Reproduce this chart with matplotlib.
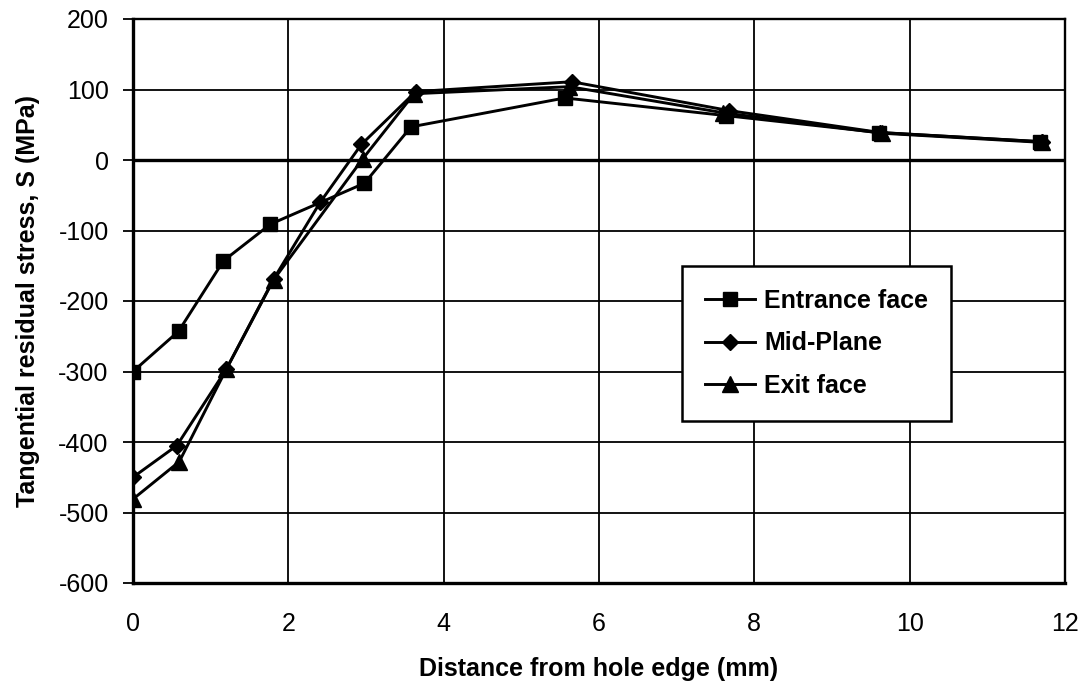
import matplotlib
matplotlib.use("Agg")
import matplotlib.pyplot as plt

plt.rcParams['font.family'] = ['Liberation Sans', 'DejaVu Sans']

# Tangential residual stress vs distance from hole edge
entrance_x = [0, 0.586, 1.165, 1.77, 2.98, 3.58, 5.56, 7.63, 9.60, 11.68]
entrance_s = [-300, -243, -143, -91, -33, 47, 88, 63, 39, 26]

mid_x = [0, 0.565, 1.20, 1.81, 2.41, 2.94, 3.64, 5.65, 7.68, 9.62, 11.70]
mid_s = [-450, -405, -297, -169, -60, 22, 97, 111, 70, 39, 26]

exit_x = [0, 0.595, 1.20, 1.81, 2.96, 3.62, 5.62, 7.60, 9.64, 11.70]
exit_s = [-481, -428, -297, -170, 2, 94, 104, 67, 38, 25]

series_labels = ["Entrance face", "Mid-Plane", "Exit face"]
x_ticks = [0, 2, 4, 6, 8, 10, 12]
y_ticks = [-600, -500, -400, -300, -200, -100, 0, 100, 200]

fig = plt.figure(figsize=(10.88, 6.86), dpi=100)
ax = fig.add_axes([133 / 1088, 1 - 583 / 686, (1065 - 133) / 1088, (583 - 19) / 686])

lw = 2.1
ax.plot(entrance_x, entrance_s, color='black', lw=lw, marker='s', ms=10,
        label=series_labels[0], zorder=4)
ax.plot(mid_x, mid_s, color='black', lw=lw, marker='D', ms=8,
        label=series_labels[1], zorder=4)
ax.plot(exit_x, exit_s, color='black', lw=lw, marker='^', ms=11,
        label=series_labels[2], zorder=4)

ax.set_xlim(0, 12)
ax.set_ylim(-600, 200)
ax.set_xticks(x_ticks)
ax.set_yticks(y_ticks)
ax.set_xticklabels([str(v) for v in x_ticks])
ax.set_yticklabels([str(v) for v in y_ticks])

ax.grid(True, color='black', lw=1.3, zorder=1)
ax.set_axisbelow(True)
ax.axhline(0, color='black', lw=2.4, zorder=2)

for side in ['top', 'right', 'left', 'bottom']:
    ax.spines[side].set_color('black')
    ax.spines[side].set_linewidth(1.7)
ax.spines['left'].set_linewidth(2.4)
ax.spines['bottom'].set_linewidth(2.4)

ax.tick_params(axis='y', direction='out', length=7, width=1.3, pad=10.5, labelsize=18)
ax.tick_params(axis='x', length=0, pad=21, labelsize=18)

ax.set_xlabel("Distance from hole edge (mm)", fontsize=18, fontweight='bold', labelpad=15)
ax.set_ylabel("Tangential residual stress, S (MPa)", fontsize=18, fontweight='bold', labelpad=13)

leg = ax.legend(loc='upper left', bbox_to_anchor=(682 / 1088, 1 - 266 / 686),
                bbox_transform=fig.transFigure, borderaxespad=0,
                prop={'size': 18, 'weight': 'bold'}, frameon=True, fancybox=False,
                edgecolor='black', handlelength=2.0, handletextpad=0.4,
                labelspacing=0.75, borderpad=0.9, framealpha=1)
leg.get_frame().set_linewidth(1.8)

fig.savefig("out.png", dpi=100, facecolor='white')
